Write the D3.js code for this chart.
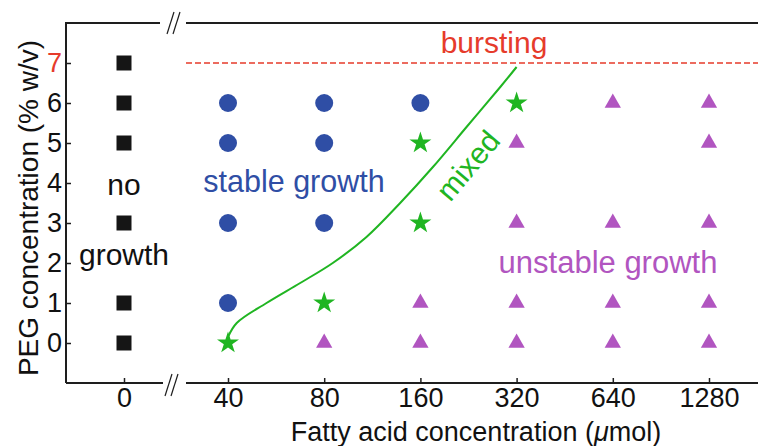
<!DOCTYPE html>
<html>
<head>
<meta charset="utf-8">
<script src="https://cdn.jsdelivr.net/npm/d3@7"></script>
<style>
  html, body { margin: 0; padding: 0; background: #fff; }
  svg { display: block; font-family: "Liberation Sans", Arial, Helvetica, sans-serif; }
</style>
</head>
<body>
<svg id="chart" width="758" height="446"></svg>
<script>
// fatty acid concentrations (umol) on the x axis, PEG % w/v on the y axis
const fattyAcid = [0, 40, 80, 160, 320, 640, 1280]
const pegTicks = [0, 1, 2, 3, 4, 5, 6, 7]
const burstLevel = 7

// observed outcome at each grid point
const noGrowth = [[0, 0], [0, 1], [0, 3], [0, 5], [0, 6], [0, 7]]
const stableGrowth = [[40, 1], [40, 3], [40, 5], [40, 6], [80, 3], [80, 5], [80, 6], [160, 6]]
const mixed = [[40, 0], [80, 1], [160, 3], [160, 5], [320, 6]]
const unstableGrowth = [
  [80, 0], [160, 0], [160, 1],
  [320, 0], [320, 1], [320, 3], [320, 5],
  [640, 0], [640, 1], [640, 3], [640, 6],
  [1280, 0], [1280, 1], [1280, 3], [1280, 5], [1280, 6]
]

// hand drawn boundary of the mixed region
const mixedBoundary = [
  [40, 0.15], [42.6, 0.5], [52.8, 1.0], [67.3, 1.5], [85.1, 2.0], [108.5, 2.65],
  [138.3, 3.5], [175.1, 4.4], [223.1, 5.4], [284.5, 6.4], [320, 6.9]
]

const colors = {
  axis: '#1e1e1e',
  none: '#151515',
  stable: '#2f4ea5',
  mixed: '#20b522',
  unstable: '#b155c0',
  burst: '#e63b2b'
}

const svg = d3.select('#chart')

const plotLeft = 66, plotTop = 23, plotBottom = 383, plotRight = 758
const breakStart = 163, breakEnd = 186

const y = d3.scaleLinear().domain([-1, 8]).range([plotBottom, plotTop])
const xLog = d3.scaleLog().base(2).domain([40, 1280]).range([228, 709])
const zeroX = 124
const xPos = c => (c === 0 ? zeroX : xLog(c))
const xCat = d3.scaleOrdinal().domain(fattyAcid).range(fattyAcid.map(xPos))

// frame with axis breaks
const frame = svg.append('g')
  .attr('stroke', colors.axis)
  .attr('stroke-width', 2)
  .attr('fill', 'none')
frame.append('path').attr('d', `M${plotLeft},${plotBottom}V${plotTop}H${breakStart - 3}`)
frame.append('path').attr('d', `M${breakEnd},${plotTop}H${plotRight}`)
frame.append('path').attr('d', `M${plotLeft},${plotBottom}H${breakStart}`)
frame.append('path').attr('d', `M${breakEnd},${plotBottom}H${plotRight}`)

const breakMarks = svg.append('g')
  .attr('stroke', colors.axis)
  .attr('stroke-width', 1.2)
;[[plotTop, 167], [plotTop, 173], [plotBottom + 2, 165], [plotBottom + 2, 171]].forEach(([cy, bx]) => {
  breakMarks.append('line')
    .attr('x1', bx).attr('y1', cy + 11)
    .attr('x2', bx + 7).attr('y2', cy - 11)
})

// y axis
const yAxis = svg.append('g')
  .attr('transform', `translate(${plotLeft},0)`)
  .call(d3.axisLeft(y).tickValues(pegTicks).tickSize(-5).tickPadding(4))
yAxis.select('.domain').remove()
yAxis.selectAll('line').attr('stroke', colors.axis).attr('stroke-width', 1.5)
yAxis.selectAll('text')
  .attr('font-size', 27)
  .attr('font-family', 'Liberation Sans, Arial, sans-serif')
  .attr('fill', d => (d === burstLevel ? colors.burst : '#111'))

// x axis
const xAxis = svg.append('g')
  .attr('transform', `translate(0,${plotBottom})`)
  .call(d3.axisBottom(xCat).tickValues(fattyAcid).tickSize(-5).tickPadding(4))
xAxis.select('.domain').remove()
xAxis.selectAll('line').attr('stroke', colors.axis).attr('stroke-width', 1.5)
xAxis.selectAll('text')
  .attr('font-size', 27)
  .attr('font-family', 'Liberation Sans, Arial, sans-serif')
  .attr('fill', '#111')
  .attr('dy', null)
  .attr('y', 24)

// axis titles
svg.append('text')
  .attr('transform', 'translate(38,208) rotate(-90)')
  .attr('text-anchor', 'middle')
  .attr('font-size', 28)
  .attr('fill', '#111')
  .text('PEG concentration (% w/v)')

const xTitle = svg.append('text')
  .attr('x', 476)
  .attr('y', 441)
  .attr('text-anchor', 'middle')
  .attr('font-size', 27)
  .attr('fill', '#111')
xTitle.append('tspan').text('Fatty acid concentration (')
xTitle.append('tspan').attr('font-style', 'italic').text('\u03bc')
xTitle.append('tspan').text('mol)')

// bursting threshold
svg.append('line')
  .attr('x1', breakEnd).attr('x2', plotRight)
  .attr('y1', y(burstLevel)).attr('y2', y(burstLevel))
  .attr('stroke', colors.burst)
  .attr('stroke-width', 1.6)
  .attr('stroke-dasharray', '6,3')

// mixed boundary curve
svg.append('path')
  .datum(mixedBoundary)
  .attr('d', d3.line().x(d => xPos(d[0])).y(d => y(d[1])).curve(d3.curveCatmullRom))
  .attr('fill', 'none')
  .attr('stroke', colors.mixed)
  .attr('stroke-width', 2)

// markers
const drawMarkers = (data, type, size, fill) => {
  svg.append('g').selectAll('path')
    .data(data)
    .join('path')
    .attr('transform', d => `translate(${xPos(d[0])},${y(d[1])})`)
    .attr('d', d3.symbol().type(type).size(size))
    .attr('fill', fill)
}
drawMarkers(noGrowth, d3.symbolSquare, 225, colors.none)
drawMarkers(stableGrowth, d3.symbolCircle, 254, colors.stable)
drawMarkers(unstableGrowth, d3.symbolTriangle, 115, colors.unstable)
drawMarkers(mixed, d3.symbolStar, 150, colors.mixed)

// region labels
const label = (text, x, yy, size, fill) =>
  svg.append('text')
    .attr('x', x).attr('y', yy)
    .attr('text-anchor', 'middle')
    .attr('font-size', size)
    .attr('fill', fill)
    .text(text)

label('no', zeroX, 195, 30, '#111')
label('growth', zeroX, 265, 30, '#111')
label('stable growth', 294, 192, 30.5, colors.stable)
label('bursting', 494, 53, 30, colors.burst)
label('unstable growth', 608, 273, 31, colors.unstable)
label('mixed', 0, 0, 30, colors.mixed)
  .attr('transform', 'translate(476,172) rotate(-50)')
</script>
</body>
</html>
